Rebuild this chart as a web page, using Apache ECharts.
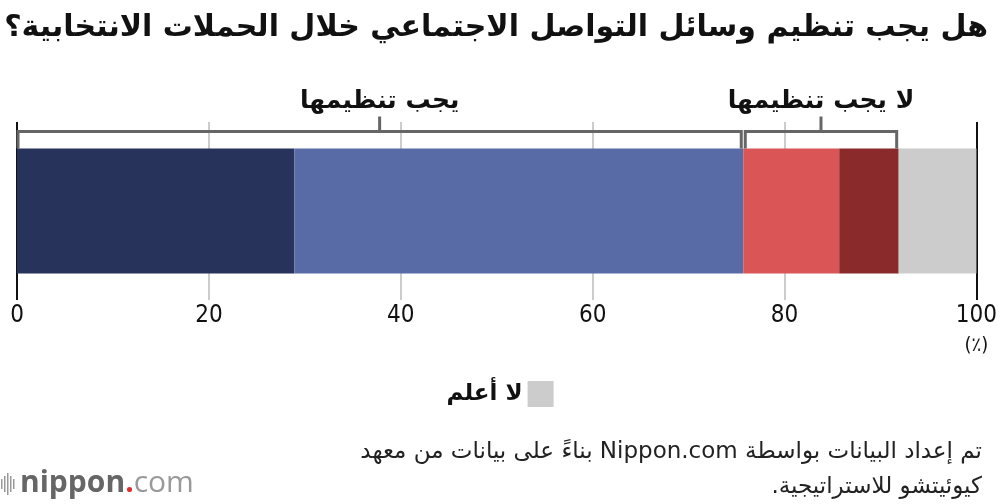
<!DOCTYPE html>
<html dir="rtl">
<head>
<meta charset="utf-8">
<script src="https://cdn.jsdelivr.net/npm/echarts@6/dist/echarts.min.js"></script>
<style>
html,body{margin:0;padding:0;background:#fff;}
#chart{width:1000px;height:504px;}
</style>
</head>
<body>
<div id="chart"></div>
<script>
// ---- data ----
const categories = ['الكل'];
const seriesNames = ['يجب تنظيمها بشدة', 'يجب تنظيمها إلى حد ما', 'لا يجب تنظيمها إلى حد ما', 'لا يجب تنظيمها على الإطلاق', 'لا أعلم'];
const seriesValues = [28.9, 46.8, 10.0, 6.2, 8.1];
const seriesColors = ['#27335a', '#586ba6', '#d95556', '#8b2a2b', '#cccccc'];
const xTicks = [0, 20, 40, 60, 80, 100];
const groupLabels = ['يجب تنظيمها', 'لا يجب تنظيمها'];
const groupMembers = [[0, 1], [2, 3]];
const titleText = 'هل يجب تنظيم وسائل التواصل الاجتماعي خلال الحملات الانتخابية؟';
const sourceLines = ['تم إعداد البيانات بواسطة Nippon.com بناءً على بيانات من معهد', 'كيوئيتشو للاستراتيجية.'];
const unitLabel = '(٪)';
const legendLabel = 'لا أعلم';

const ARABIC = '"DejaVu Sans", sans-serif';
const NUM = '"Liberation Sans Narrow", "DejaVu Sans Condensed", "Liberation Sans", sans-serif';
const BAR_W = 125;

const chart = echarts.init(document.getElementById('chart'), null, {renderer: 'canvas'});

const series = seriesNames.map((n, i) => ({
  name: n,
  type: 'bar',
  stack: 'total',
  barWidth: BAR_W,
  data: [seriesValues[i]],
  itemStyle: {color: seriesColors[i]},
  emphasis: {disabled: true},
  silent: true
}));

chart.setOption({
  animation: false,
  textStyle: {fontFamily: ARABIC},
  title: {
    text: titleText,
    right: 7, top: 8,
    textStyle: {fontFamily: ARABIC, fontSize: 30, fontWeight: 'bold', color: '#111'}
  },
  legend: {
    data: [legendLabel],
    left: 'center', top: 376,
    align: 'right',
    itemWidth: 26, itemHeight: 26, itemGap: 10,
    icon: 'rect',
    textStyle: {fontFamily: ARABIC, fontSize: 23, fontWeight: 'bold', color: '#111'},
    selectedMode: false
  },
  grid: {left: 17, right: 22, top: 122, bottom: 204, containLabel: false},
  xAxis: {
    type: 'value', min: 0, max: 100, interval: 20,
    axisLine: {show: false},
    axisTick: {show: false},
    splitLine: {show: true, lineStyle: {color: ['#111', '#cccccc', '#cccccc', '#cccccc', '#cccccc', '#111'], width: 2}},
    axisLabel: {
      margin: 4, fontFamily: NUM, fontSize: 24, color: '#111',
      customValues: xTicks
    }
  },
  yAxis: {
    type: 'category', data: categories,
    axisLine: {show: false}, axisTick: {show: false}, axisLabel: {show: false}
  },
  series: series
});

function build() {
  const yc = chart.convertToPixel({yAxisIndex: 0}, categories[0]);
  const barTop = yc - BAR_W / 2;
  const lineY = barTop - 17;
  const els = [];
  let cum = [0];
  seriesValues.forEach((v, i) => cum.push(cum[i] + v));
  groupMembers.forEach((m, gi) => {
    const from = cum[m[0]];
    const to = cum[m[m.length - 1] + 1];
    let x1 = chart.convertToPixel({xAxisIndex: 0}, from);
    let x2 = chart.convertToPixel({xAxisIndex: 0}, to);
    if (gi > 0) x1 += 2;
    x2 -= 2;
    if (gi === 0) x1 += 1;
    const mid = (x1 + x2) / 2;
    els.push({type: 'polyline', shape: {points: [[x1, barTop], [x1, lineY], [x2, lineY], [x2, barTop]]},
      style: {stroke: '#666', lineWidth: 3, fill: null}, z: 10});
    els.push({type: 'line', shape: {x1: mid, y1: lineY, x2: mid, y2: lineY - 15},
      style: {stroke: '#666', lineWidth: 3}, z: 10});
    els.push({type: 'text', x: mid, y: lineY - 30,
      style: {text: groupLabels[gi], fontFamily: ARABIC, fontSize: 25, fontWeight: 'bold', fill: '#111', align: 'center', verticalAlign: 'middle'}, z: 10});
  });
  const x100 = chart.convertToPixel({xAxisIndex: 0}, 100);
  els.push({type: 'text', x: x100, y: 346,
    style: {text: unitLabel, fontFamily: NUM, fontSize: 20, fill: '#111', align: 'center', verticalAlign: 'middle'}});
  sourceLines.forEach((t, i) => {
    els.push({type: 'text', x: 982, y: 452 + i * 35,
      style: {text: t, fontFamily: ARABIC, fontSize: 23, fill: '#222', align: 'right', verticalAlign: 'middle'}});
  });
  // nippon.com logo
  const bars = [[1, 10], [4, 16], [7, 22], [10, 16], [13, 10]];
  bars.forEach(b => els.push({type: 'rect', shape: {x: b[0], y: 484 - b[1] / 2, width: 1.5, height: b[1]}, style: {fill: '#999'}}));
  els.push({type: 'text', x: 20, y: 483,
    style: {
      text: '{a|nippon}{b|.}{c|com}', align: 'left', verticalAlign: 'middle',
      rich: {
        a: {fontFamily: '"Open Sans", sans-serif', fontSize: 30, fontWeight: 'bold', fill: '#666'},
        b: {fontFamily: '"Open Sans", sans-serif', fontSize: 30, fontWeight: 'bold', fill: '#e0302e'},
        c: {fontFamily: '"Open Sans", sans-serif', fontSize: 30, fontWeight: 'normal', fill: '#999'}
      }
    }});
  chart.setOption({graphic: {elements: els}});
}
build();
</script>
</body>
</html>
